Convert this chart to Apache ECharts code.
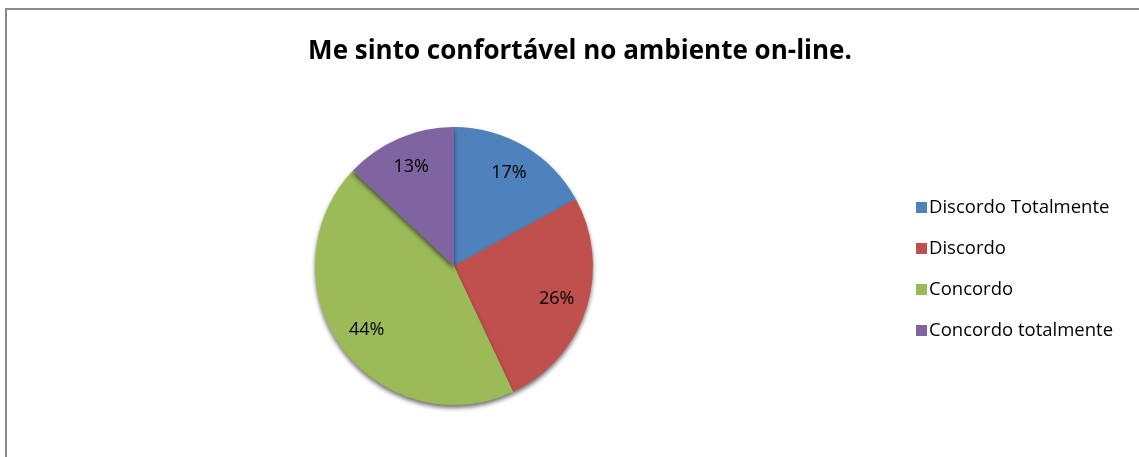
<!DOCTYPE html>
<html>
<head>
<meta charset="utf-8">
<script src="https://cdn.jsdelivr.net/npm/echarts@6/dist/echarts.min.js"></script>
<style>
    html, body { margin: 0; padding: 0; background: #fff; }
    #chart { width: 1139px; height: 457px; }
</style>
</head>
<body>
<div id="chart"></div>
<script>
// Answer categories and their share (percent)
const categories = ['Discordo Totalmente', 'Discordo', 'Concordo', 'Concordo totalmente'];
const values = [17, 26, 44, 13];
const colors = ['#4F81BD', '#C0504D', '#9BBB59', '#8064A2'];

const chart = echarts.init(document.getElementById('chart'));

const pieData = categories.map((name, i) => ({
    name: name,
    value: values[i],
    itemStyle: { color: colors[i] }
}));

const option = {
    animation: false,
    title: {
        text: 'Me sinto confortável no ambiente on-line.',
        left: 575,
        top: 34,
        textAlign: 'center',
        textStyle: {
            fontFamily: 'Open Sans',
            fontSize: 26,
            fontWeight: 'bold',
            color: '#000'
        }
    },
    legend: {
        orient: 'vertical',
        left: 911,
        top: 193,
        itemWidth: 11,
        itemHeight: 11,
        itemGap: 22,
        icon: 'rect',
        data: categories,
        textStyle: {
            fontFamily: 'Open Sans',
            fontSize: 18.5,
            color: '#000',
            padding: [0, 0, 0, -3]
        }
    },
    graphic: [
        // cut-off caption above the frame
        {
            type: 'text',
            left: 'center',
            top: -22,
            style: {
                text: 'Gráfico 3: Gráfico de setores',
                font: 'bold 28px "Open Sans"',
                fill: '#000'
            }
        },
        // chart frame
        {
            type: 'rect',
            shape: { x: 6, y: 9, width: 1300, height: 600 },
            style: { fill: 'none', stroke: '#8a8a8a', lineWidth: 2 }
        }
    ],
    series: [
        {
            type: 'pie',
            center: [454, 266],
            radius: [0, 139],
            startAngle: 90,
            clockwise: true,
            label: { show: false },
            labelLine: { show: false },
            itemStyle: {
                borderWidth: 0,
                shadowBlur: 4,
                shadowOffsetY: 3,
                shadowColor: 'rgba(0,0,0,0.55)'
            },
            emphasis: { disabled: true },
            data: pieData
        },
        // transparent copy only to place the percent labels further out
        {
            type: 'pie',
            center: [454, 266],
            radius: [0, 210],
            startAngle: 90,
            clockwise: true,
            silent: true,
            z: 3,
            itemStyle: { color: 'rgba(0,0,0,0)' },
            label: {
                show: true,
                position: 'inside',
                formatter: '{c}%',
                fontFamily: 'Open Sans',
                fontSize: 18,
                color: '#000'
            },
            labelLine: { show: false },
            emphasis: { disabled: true },
            data: categories.map((name, i) => ({ name: name, value: values[i] }))
        }
    ]
};

chart.setOption(option);
</script>
</body>
</html>
